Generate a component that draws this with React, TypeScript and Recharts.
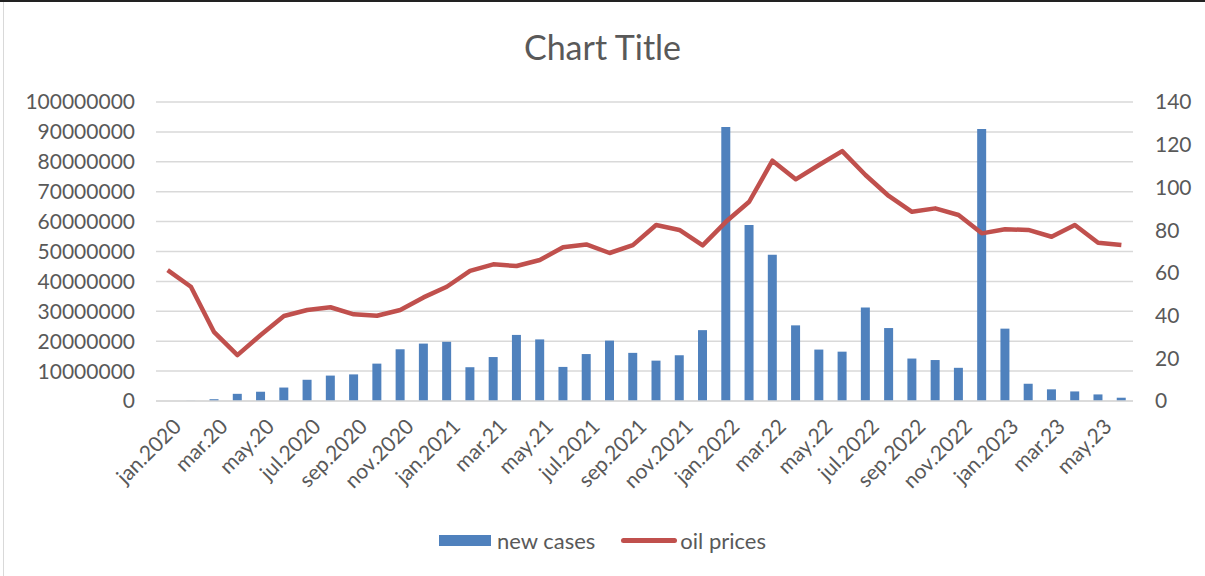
import { ComposedChart, Bar, Line, XAxis, YAxis, CartesianGrid, Legend } from 'recharts';

const months = [
  'jan.2020', 'feb.20', 'mar.20', 'apr.20', 'may.20', 'jun.20', 'jul.2020', 'aug.2020', 'sep.2020', 'oct.2020', 'nov.2020', 'dec.2020',
  'jan.2021', 'feb.21', 'mar.21', 'apr.21', 'may.21', 'jun.21', 'jul.2021', 'aug.2021', 'sep.2021', 'oct.2021', 'nov.2021', 'dec.2021',
  'jan.2022', 'feb.22', 'mar.22', 'apr.22', 'may.22', 'jun.22', 'jul.2022', 'aug.2022', 'sep.2022', 'oct.2022', 'nov.2022', 'dec.2022',
  'jan.2023', 'feb.23', 'mar.23', 'apr.23', 'may.23', 'jun.23',
];

// new cases, millions
const newCasesM = [
  0, 0.05, 0.6, 2.4, 3.1, 4.5, 7.1, 8.5, 8.9, 12.5, 17.3, 19.2,
  19.8, 11.3, 14.7, 22.1, 20.6, 11.4, 15.7, 20.2, 16.1, 13.5, 15.3, 23.7,
  91.6, 58.9, 48.9, 25.3, 17.2, 16.5, 31.3, 24.4, 14.2, 13.7, 11.1, 91.0,
  24.2, 5.8, 3.9, 3.2, 2.2, 1.1,
];

const oilPrices = [
  61.3, 53.5, 32.2, 21.5, 30.9, 39.8, 42.6, 43.9, 40.6, 39.9, 42.6, 48.5,
  53.5, 60.9, 64.0, 63.2, 66.0, 72.0, 73.3, 69.3, 73.0, 82.4, 80.1, 72.9,
  83.9, 93.3, 112.5, 103.8, 110.5, 117.0, 105.8, 96.0, 88.6, 90.2, 87.1, 78.5,
  80.4, 80.1, 76.9, 82.4, 74.1, 73.0,
];

const leftTicks = [0, 10000000, 20000000, 30000000, 40000000, 50000000, 60000000, 70000000, 80000000, 90000000, 100000000];
const rightTicks = [0, 20, 40, 60, 80, 100, 120, 140];

const data = months.map((m, i) => ({
  month: m,
  cases: Math.round(newCasesM[i] * 1000000),
  oil: oilPrices[i],
}));

const FONT = 'Lato, "Open Sans", sans-serif';
const TEXT = '#595959';

const MonthTick = (props: any) => {
  const { x, y, payload } = props;
  return (
    <g transform={`translate(${x + 5},${y + 9})`}>
      <text transform="rotate(-45)" textAnchor="end" dy={14} fontSize={21} fill={TEXT} fontFamily={FONT}>
        {payload.value}
      </text>
    </g>
  );
};

const renderLegend = () => (
  <div style={{ display: 'flex', justifyContent: 'center', alignItems: 'center', fontFamily: FONT, fontSize: 22, color: TEXT, marginTop: 11 }}>
    <span style={{ display: 'inline-block', width: 52, height: 11, background: '#4f81bd', marginRight: 6 }} />
    <span style={{ marginRight: 26 }}>new cases</span>
    <span style={{ display: 'inline-block', width: 56, height: 5, borderRadius: 3, background: '#c0504d', marginRight: 3 }} />
    <span>oil prices</span>
  </div>
);

export default function App() {
  return (
    <div style={{ position: 'absolute', left: 0, top: 0, width: 1205, height: 576, background: '#fff', overflow: 'hidden' }}>
      <div style={{ position: 'absolute', left: 0, top: 0, width: 1205, height: 2, background: '#222' }} />
      <div style={{ position: 'absolute', left: 3, top: 2, width: 1, height: 574, background: '#d9d9d9' }} />
      <div style={{ position: 'absolute', left: 0, top: 26, width: 1205, textAlign: 'center', fontFamily: FONT, fontSize: 34, color: TEXT }}>
        Chart Title
      </div>
      <ComposedChart
        width={1205}
        height={576}
        data={data}
        margin={{ top: 102, right: 0, bottom: 0, left: 0 }}
        barCategoryGap={0}
      >
        <CartesianGrid vertical={false} stroke="#d9d9d9" strokeWidth={1.5} yAxisId="left" />
        <XAxis
          dataKey="month"
          interval={1}
          tick={<MonthTick />}
          tickLine={false}
          axisLine={{ stroke: '#d9d9d9', strokeWidth: 1.5 }}
          height={115}
        />
        <YAxis
          yAxisId="left"
          orientation="left"
          width={156}
          domain={[0, 100000000]}
          ticks={leftTicks}
          interval={0}
          tickLine={false}
          axisLine={false}
          tickSize={0}
          tickMargin={21}
          tick={{ fontSize: 21, fill: TEXT, fontFamily: FONT }}
        />
        <YAxis
          yAxisId="right"
          orientation="right"
          width={72}
          domain={[0, 140]}
          ticks={rightTicks}
          interval={0}
          tickLine={false}
          axisLine={false}
          tickSize={0}
          tickMargin={22}
          tick={{ fontSize: 21, fill: TEXT, fontFamily: FONT, textAnchor: 'start' }}
        />
        <Legend verticalAlign="bottom" height={60} content={renderLegend} />
        <Bar yAxisId="left" dataKey="cases" name="new cases" fill="#4f81bd" barSize={9} isAnimationActive={false} />
        <Line
          yAxisId="right"
          dataKey="oil"
          name="oil prices"
          stroke="#c0504d"
          strokeWidth={4.5}
          dot={false}
          strokeLinejoin="round"
          isAnimationActive={false}
        />
      </ComposedChart>
    </div>
  );
}
